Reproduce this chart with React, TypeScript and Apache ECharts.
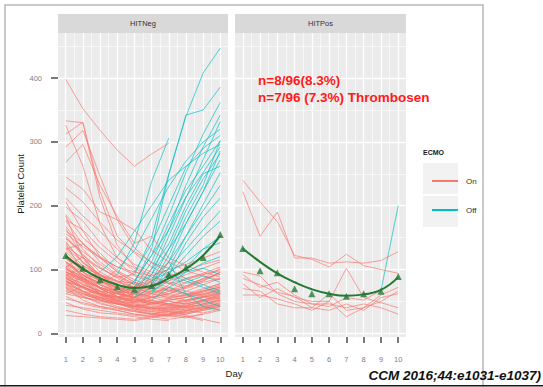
import React, { useEffect, useRef } from 'react';
import * as echarts from 'echarts';

// ---------- data ----------
const DAYS = [1, 2, 3, 4, 5, 6, 7, 8, 9, 10];

// HITNeg patients: platelet counts per day (null = no more measurement)
const negPatients: (number | null)[][] = [
  [398, 352, 318, 287, 262, 281, 298, null, null, null],
  [333, 330, 212, 138, 104, 92, 78, 70, 80, 86],
  [326, 262, 171, 118, 98, 82, 66, 74, 82, 95],
  [312, 331, 222, 152, 126, 104, 90, 97, 108, 115],
  [292, 318, 246, 178, 134, 110, 102, 86, 94, 104],
  [268, 296, 232, 183, 141, 152, 118, 106, 96, 88],
  [245, 226, 190, 178, 162, 130, 112, 98, 90, 84],
  [228, 206, 174, 146, 128, 112, 94, 86, 92, 98],
  [212, 184, 160, 132, 108, 96, 88, 78, 84, 96],
  [198, 176, 142, 118, 102, 88, 80, 74, 86, 92],
  [186, 150, 126, 98, 84, 74, 68, 62, 70, 78],
  [178, 162, 134, 112, 90, 80, 72, 66, 60, 68],
  [168, 132, 104, 86, 72, 62, 56, 60, 66, 72],
  [160, 142, 112, 92, 76, 66, 58, 52, 56, 62],
  [152, 124, 96, 82, 66, 56, 50, 46, 52, 60],
  [144, 110, 92, 72, 62, 52, 46, 42, 44, 52],
  [136, 118, 102, 88, 76, 72, 82, 92, 102, 112],
  [128, 102, 82, 70, 62, 56, 62, 72, 86, 102],
  [122, 96, 76, 62, 52, 46, 42, 36, 32, 38],
  [116, 106, 90, 80, 72, 62, 56, 66, 76, 86],
  [110, 92, 72, 56, 46, 40, 34, 28, 22, 16],
  [106, 86, 66, 52, 42, 46, 52, 56, 62, 66],
  [102, 82, 62, 52, 46, 40, 38, 36, 42, 46],
  [98, 76, 66, 56, 50, 56, 62, 72, 82, 96],
  [94, 72, 56, 46, 40, 34, 30, 26, 20, null],
  [90, 66, 52, 42, 36, 30, 36, 42, 52, 62],
  [86, 72, 62, 56, 50, 46, 52, 56, 66, 72],
  [82, 62, 52, 46, 42, 38, 42, 48, 56, 64],
  [78, 58, 46, 40, 36, 30, 28, 32, 38, 46],
  [72, 52, 42, 36, 30, 28, 26, 30, 36, 42],
  [66, 56, 50, 46, 42, 40, 46, 52, 56, 62],
  [58, 46, 40, 36, 30, 26, 22, 26, 30, null],
  [48, 38, 32, 30, 26, 22, 20, null, null, null],
  [36, 30, 26, 24, 22, 26, 30, 34, null, null],
  [28, 26, 24, 22, 20, 24, 30, 36, 40, 44],
  [140, 96, 70, 58, 48, 42, 38, 44, 50, 58],
  [120, 86, 60, 48, 38, 32, 28, 24, 30, 36],
  [104, 120, 88, 70, 58, 64, 70, 62, 58, 54],
  [90, 104, 82, 64, 56, 48, 44, 50, 58, 64],
  [76, 88, 70, 58, 48, 52, 46, 40, 46, 52],
  [62, 74, 60, 50, 44, 38, 34, 30, 36, 40],
  [184, 118, 84, 66, 54, 48, 44, 40, 38, 42],
  [132, 140, 120, 104, 96, 90, 100, 108, 118, 128],
  [176, 140, 118, 96, 80, 70, 62, 58, 64, 74],
  [164, 120, 90, 74, 64, 58, 54, 50, 58, 66],
  [148, 128, 108, 90, 78, 68, 60, 56, 62, 70],
  [134, 112, 86, 70, 58, 50, 46, 52, 60, 70],
  [118, 100, 84, 66, 56, 48, 44, 40, 46, 54],
  [112, 88, 70, 58, 52, 48, 54, 60, 68, 78],
  [100, 90, 78, 64, 54, 44, 40, 46, 52, 60],
  [96, 80, 62, 50, 42, 38, 40, 44, 48, 56],
  [88, 78, 64, 52, 44, 40, 36, 32, 38, 44],
  [84, 64, 54, 48, 40, 36, 32, 38, 44, 50],
  [80, 74, 58, 48, 42, 46, 50, 46, 52, 58],
  [74, 62, 56, 46, 38, 34, 38, 42, 50, 56],
  [68, 58, 48, 40, 34, 30, 34, 40, 46, 52],
  [54, 48, 42, 38, 34, 30, 28, 34, 40, 48],
  [44, 40, 36, 32, 28, 26, 30, 36, 42, 48],
  [206, 160, 120, 96, 80, 72, 66, 60, 66, 76],
  [156, 136, 118, 104, 92, 84, 78, 84, 92, 100],
  [150, 122, 102, 88, 92, 150, 250, 340, 408, 447],
  [142, 112, 92, 82, 78, 132, 248, 342, 350, 386],
  [112, 92, 78, 92, 142, 238, 306, null, null, null],
  [104, 86, 72, 62, 82, 122, 184, 252, 312, 362],
  [96, 82, 66, 56, 62, 102, 162, 232, 292, 342],
  [92, 72, 62, 52, 56, 92, 152, 212, 272, 332],
  [86, 72, 62, 56, 72, 112, 172, 224, 262, 302],
  [82, 66, 56, 62, 82, 122, 162, 214, 252, 292],
  [124, 96, 82, 72, 66, 82, 132, 192, 242, 282],
  [112, 92, 76, 66, 62, 76, 122, 182, 232, 302],
  [102, 82, 72, 62, 56, 72, 112, 172, 222, 272],
  [96, 86, 72, 66, 62, 66, 102, 152, 202, 252],
  [92, 76, 66, 62, 72, 92, 132, 172, 222, 286],
  [132, 106, 92, 82, 72, 86, 112, 152, 192, 232],
  [88, 72, 62, 56, 52, 62, 92, 142, 182, 212],
  [76, 66, 56, 52, 62, 82, 102, 132, 162, 192],
  [72, 62, 52, 46, 56, 72, 92, 122, 152, 176],
  [82, 72, 66, 62, 56, 66, 82, 102, 132, 152],
  [102, 86, 76, 66, 62, 72, 92, 82, 72, 62],
  [92, 82, 72, 62, 56, 62, 72, 86, 76, 66],
  [112, 96, 82, 72, 66, 76, 86, 96, 102, 92],
  [122, 102, 92, 76, 72, 82, 96, 112, 132, 142],
  [62, 56, 52, 46, 42, 52, 72, 62, 52, 42],
  [78, 66, 62, 56, 62, 82, 112, 62, 42, 36],
  [108, 90, 80, 100, 130, 180, 230, 270, 300, 320],
  [96, 84, 96, 120, 160, 200, 240, 262, 282, 296],
  [118, 100, 86, 78, 96, 140, 200, 260, 290, 310],
  [100, 84, 70, 64, 70, 100, 140, 200, 250, 262],
  [86, 70, 60, 54, 50, 58, 76, 96, 110, 120],
  [70, 60, 54, 50, 48, 56, 66, 80, 90, 80],
];
// day on which ECMO was stopped (0 = stayed on ECMO)
const negOffDay: number[] = [
  0, 0, 0, 0, 0, 0, 0, 0, 0, 0, 0, 0, 0, 0, 0, 0, 0, 0, 0, 0, 0, 0, 0, 0, 0,
  0, 0, 0, 0, 0, 0, 0, 0, 0, 0, 0, 0, 0, 0, 0, 0, 0, 0,
  0, 0, 0, 0, 0, 0, 0, 0, 0, 0, 0, 0, 0, 0, 0, 0, 0,
  5, 5, 4, 5, 5, 5, 5, 4, 6, 6, 6, 6, 5, 6, 6, 5, 5, 6, 6, 7, 7, 6, 6, 7, 4, 3, 5, 6, 7, 8,
];

// HITPos patients
const posPatients: (number | null)[][] = [
  [240, 206, 175, 122, 116, 104, 124, 106, 100, 94],
  [222, 152, 190, 118, 118, 110, 112, 110, 114, 128],
  [92, 72, 80, 60, 46, 42, 56, 52, 67, 200],
  [86, 76, 64, 58, 40, 62, 36, 40, 50, 66],
  [78, 56, 70, 56, 50, 50, 102, 56, 48, 40],
  [60, 60, 54, 46, 36, 50, 26, 40, 60, 72],
  [96, 90, 62, 50, 46, 46, 40, 46, 40, 30],
  [70, 66, 46, 40, 40, 36, 46, 36, 56, 62],
];
const posOffDay: number[] = [0, 0, 9, 0, 0, 0, 0, 0];

// mean per day (triangles) and smoothed trend
const negMean = [122, 102, 84, 73, 69, 75, 92, 103, 119, 155];
const negTrend = [121, 101, 86, 76, 71, 74, 86, 101, 122, 153];
const posMean = [133, 98, 95, 70, 62, 62, 58, 62, 66, 89];
const posTrend = [133, 112, 94, 80, 69, 62, 59, 61, 68, 88];

const panelNames = ['HITNeg', 'HITPos'];
const legendNames = ['On', 'Off'];
const noteLines = ['n=8/96(8.3%)', 'n=7/96 (7.3%) Thrombosen'];
const citation = 'CCM 2016;44:e1031-e1037)';

// ---------- style / layout ----------
const ON = '#F8766D';
const OFF = '#00BFC4';
const GREEN = '#237a33';
const FONT = 'Liberation Sans, Arial, Helvetica, sans-serif';
const TOP = 33;
const H = 304;
const X_MIN = 0.55;
const X_MAX = 10.45;
const Y_MIN = -5.8;
const Y_MAX = 470.7;
const PANELS = [
  { left: 58, width: 170 },
  { left: 235, width: 171 },
];
const yPix = (v: number) => TOP + ((Y_MAX - v) / (Y_MAX - Y_MIN)) * H;

export default function App() {
  const ref = useRef<HTMLDivElement>(null);

  useEffect(() => {
    if (!ref.current) return;
    const chart = echarts.init(ref.current, undefined, { renderer: 'svg' });

    const grids: any[] = [];
    const xAxes: any[] = [];
    const yAxes: any[] = [];
    const series: any[] = [];
    const graphics: any[] = [];

    PANELS.forEach((p, pi) => {
      const base = pi * 4;
      const innerLeft = p.left + ((1 - X_MIN) / (X_MAX - X_MIN)) * p.width;
      const innerWidth = (9 / (X_MAX - X_MIN)) * p.width;
      grids.push({ left: p.left, top: TOP, width: p.width, height: H, show: true, backgroundColor: '#EBEBEB', borderWidth: 0, z: 0 });
      grids.push({ left: innerLeft, top: TOP, width: innerWidth, height: H, show: false });
      grids.push({ left: p.left, top: yPix(400), width: p.width, height: yPix(0) - yPix(400), show: false });
      grids.push({ left: p.left, top: yPix(450), width: p.width, height: yPix(50) - yPix(450), show: false });

      xAxes.push({ gridIndex: base, type: 'value', min: X_MIN, max: X_MAX, show: false });
      yAxes.push({ gridIndex: base, type: 'value', min: Y_MIN, max: Y_MAX, show: false });

      xAxes.push({
        gridIndex: base + 1, type: 'value', min: 1, max: 10, interval: 1, z: 1,
        position: 'bottom', offset: 5,
        axisLine: { show: false },
        axisTick: { show: true, length: 6, lineStyle: { color: '#4d4d4d', width: 1.5 } },
        axisLabel: { fontSize: 7.5, color: '#808080', margin: 13, fontFamily: FONT },
        splitLine: { show: true, lineStyle: { color: '#ffffff', width: 1.3 } },
        minorTick: { show: false, splitNumber: 2 },
        minorSplitLine: { show: true, lineStyle: { color: '#ffffff', width: 0.6 } },
      });
      yAxes.push({ gridIndex: base + 1, type: 'value', min: 0, max: 1, show: false });

      xAxes.push({ gridIndex: base + 2, type: 'value', min: 0, max: 1, show: false });
      yAxes.push({
        gridIndex: base + 2, type: 'value', min: 0, max: 400, interval: 100, z: 1,
        position: 'left', offset: 1,
        axisLine: { show: false },
        axisTick: { show: pi === 0, length: 7, lineStyle: { color: '#4d4d4d', width: 1.5 } },
        axisLabel: { show: pi === 0, fontSize: 7.5, color: '#808080', margin: 15, fontFamily: FONT },
        splitLine: { show: true, lineStyle: { color: '#ffffff', width: 1.3 } },
      });

      xAxes.push({ gridIndex: base + 3, type: 'value', min: 0, max: 1, show: false });
      yAxes.push({
        gridIndex: base + 3, type: 'value', min: 50, max: 450, interval: 100, z: 1,
        axisLine: { show: false }, axisTick: { show: false }, axisLabel: { show: false },
        splitLine: { show: true, lineStyle: { color: '#ffffff', width: 0.6 } },
      });

      const patients = pi === 0 ? negPatients : posPatients;
      const offDays = pi === 0 ? negOffDay : posOffDay;
      patients.forEach((vals, k) => {
        const off = offDays[k];
        const pts = vals.map((v, i) => [DAYS[i], v]).filter((d) => d[1] != null);
        const red = off ? pts.filter((d) => (d[0] as number) <= off) : pts;
        const cyan = off ? pts.filter((d) => (d[0] as number) >= off) : [];
        series.push({
          type: 'line', name: legendNames[0], xAxisIndex: base, yAxisIndex: base, data: red,
          symbol: 'none', silent: true, z: 2,
          lineStyle: { color: ON, width: 0.9, opacity: 0.75 }, itemStyle: { color: ON },
        });
        if (cyan.length > 1) {
          series.push({
            type: 'line', name: legendNames[1], xAxisIndex: base, yAxisIndex: base, data: cyan,
            symbol: 'none', silent: true, z: 2,
            lineStyle: { color: OFF, width: 0.9, opacity: 0.75 }, itemStyle: { color: OFF },
          });
        }
      });

      const trend = pi === 0 ? negTrend : posTrend;
      const mean = pi === 0 ? negMean : posMean;
      series.push({
        type: 'line', name: 'trend' + pi, xAxisIndex: base, yAxisIndex: base,
        data: trend.map((v, i) => [DAYS[i], v]), smooth: 0.5, symbol: 'none', silent: true, z: 5,
        lineStyle: { color: GREEN, width: 2 }, itemStyle: { color: GREEN },
      });
      series.push({
        type: 'scatter', name: 'mean' + pi, xAxisIndex: base, yAxisIndex: base,
        data: mean.map((v, i) => [DAYS[i], v]), symbol: 'triangle', symbolSize: 7, silent: true, z: 6,
        itemStyle: { color: GREEN },
      });

      graphics.push({ type: 'rect', z: 10, shape: { x: p.left, y: 14, width: p.width, height: 19 }, style: { fill: '#D9D9D9' }, silent: true });
      graphics.push({
        type: 'text', z: 11, x: p.left + p.width / 2, y: 23.5,
        style: { text: panelNames[pi], fill: '#333333', fontSize: 7.5, fontFamily: FONT, align: 'center', verticalAlign: 'middle' },
        silent: true,
      });
    });

    graphics.push({ type: 'rect', z: -5, shape: { x: 5, y: 5, width: 478, height: 392 }, style: { fill: 'none', stroke: '#b8b8b8', lineWidth: 1.5 }, silent: true });
    graphics.push({ type: 'line', z: 10, shape: { x1: 0, y1: 385.8, x2: 543, y2: 385.8 }, style: { stroke: '#1a1a1a', lineWidth: 1.6 }, silent: true });
    graphics.push({
      type: 'text', z: 10, x: 234, y: 373,
      style: { text: 'Day', fill: '#1a1a1a', fontSize: 9.5, fontFamily: FONT, align: 'center', verticalAlign: 'middle' }, silent: true,
    });
    graphics.push({
      type: 'text', z: 10, x: 20, y: 184, rotation: Math.PI / 2,
      style: { text: 'Platelet Count', fill: '#1a1a1a', fontSize: 9.5, fontFamily: FONT, align: 'center', verticalAlign: 'middle' }, silent: true,
    });
    graphics.push({
      type: 'text', z: 10, x: 423, y: 152,
      style: { text: 'ECMO', fill: '#1a1a1a', fontSize: 7, fontWeight: 'bold', fontFamily: FONT, align: 'left', verticalAlign: 'middle' }, silent: true,
    });
    graphics.push({ type: 'rect', z: -1, shape: { x: 423, y: 163, width: 35, height: 31 }, style: { fill: '#F2F2F2' }, silent: true });
    graphics.push({ type: 'rect', z: -1, shape: { x: 423, y: 196, width: 35, height: 31 }, style: { fill: '#F2F2F2' }, silent: true });
    noteLines.forEach((t, i) => {
      graphics.push({
        type: 'text', z: 20, x: 258, y: 80 + i * 17,
        style: { text: t, fill: '#FF1A1A', fontSize: 13.5, fontWeight: 'bold', fontFamily: FONT, align: 'left', verticalAlign: 'middle' }, silent: true,
      });
    });
    graphics.push({
      type: 'text', z: 20, x: 541, y: 375,
      style: { text: citation, fill: '#111111', fontSize: 13.5, fontWeight: 'bold', fontStyle: 'italic', fontFamily: FONT, align: 'right', verticalAlign: 'middle' }, silent: true,
    });

    chart.setOption({
      animation: false,
      backgroundColor: '#ffffff',
      grid: grids,
      xAxis: xAxes,
      yAxis: yAxes,
      legend: {
        data: legendNames.map((n) => ({ name: n })),
        orient: 'vertical', left: 427, top: 172,
        itemWidth: 26, itemHeight: 2, itemGap: 21, icon: 'rect', selectedMode: false,
        textStyle: { fontSize: 8, color: '#333333', fontFamily: FONT, padding: [0, 0, 0, 3] },
      },
      graphic: graphics,
      series,
    });

    return () => chart.dispose();
  }, []);

  return <div ref={ref} style={{ position: 'fixed', left: 0, top: 0, width: 543, height: 387 }} />;
}
